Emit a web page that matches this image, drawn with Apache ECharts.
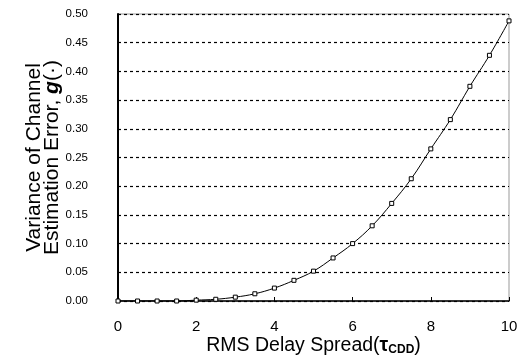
<!DOCTYPE html>
<html>
<head>
<meta charset="utf-8">
<script src="https://cdn.jsdelivr.net/npm/echarts@6/dist/echarts.min.js"></script>
<style>
  html, body { margin: 0; padding: 0; background: #fff; }
  #main { width: 530px; height: 359px; }
</style>
</head>
<body>
<div id="main"></div>
<script>
// RMS delay spread (tau_CDD) and the variance g(.)
var delaySpread = [0, 0.5, 1, 1.5, 2, 2.5, 3, 3.5, 4, 4.5, 5, 5.5, 6, 6.5, 7, 7.5, 8, 8.5, 9, 9.5, 10];
var variance = [0, 0, 0, 0, 0.0015, 0.003, 0.0067, 0.0126, 0.0225, 0.036, 0.052, 0.075, 0.1, 0.131, 0.17, 0.213, 0.265, 0.316, 0.374, 0.428, 0.488];
var xTicks = [0, 2, 4, 6, 8, 10];
var yTicks = [0, 0.05, 0.1, 0.15, 0.2, 0.25, 0.3, 0.35, 0.4, 0.45, 0.5];

var pts = [];
delaySpread.forEach(function (x, i) {
  pts.push([x, variance[i]]);
});

var font = 'Liberation Sans';
var myChart = echarts.init(document.getElementById('main'));
myChart.setOption({
  animation: false,
  backgroundColor: '#fff',
  grid: {
    left: 118, right: 21, top: 14, bottom: 58,
    outerBoundsMode: 'none',
    show: true, borderColor: '#999', borderWidth: 1
  },
  xAxis: {
    type: 'value',
    min: xTicks[0], max: xTicks[xTicks.length - 1], interval: 2,
    name: '{a|RMS Delay Spread(}{t|τ}{s|CDD}{a|)}',
    nameLocation: 'middle',
    nameGap: 35,
    nameMoveOverlap: false,
    nameTextStyle: {
      rich: {
        a: { fontFamily: font, fontSize: 19.5, color: '#000', lineHeight: 20 },
        t: { fontFamily: font, fontSize: 19.5, fontWeight: 'bold', color: '#000', lineHeight: 20 },
        s: { fontFamily: font, fontSize: 12, fontWeight: 'bold', color: '#000', lineHeight: 20, verticalAlign: 'bottom', padding: [8, 0, 0, 0] }
      }
    },
    axisLine: { lineStyle: { color: '#000', width: 1.5 } },
    axisTick: { inside: true, length: 4, lineStyle: { color: '#000' } },
    axisLabel: { fontFamily: font, fontSize: 15, color: '#000', margin: 18 },
    splitLine: { show: false }
  },
  yAxis: {
    type: 'value',
    min: yTicks[0], max: yTicks[yTicks.length - 1], interval: 0.05,
    name: '{a|Variance of Channel}\n{a|Estimation Error, }{g|g}{a|(·)}',
    nameLocation: 'middle',
    nameGap: 57,
    nameMoveOverlap: false,
    nameTextStyle: {
      align: 'center',
      rich: {
        a: { fontFamily: font, fontSize: 21, color: '#000', lineHeight: 18 },
        g: { fontFamily: font, fontSize: 21, fontStyle: 'italic', fontWeight: 'bold', color: '#000', lineHeight: 18 }
      }
    },
    axisLine: { show: true, lineStyle: { color: '#000', width: 2 } },
    axisTick: { show: true, inside: true, length: 3, lineStyle: { color: '#000' } },
    axisLabel: {
      fontFamily: font, fontSize: 11.5, color: '#000', margin: 30,
      formatter: function (v) { return v.toFixed(2); }
    },
    splitLine: { lineStyle: { color: '#000', width: 1.2, type: [3, 3] } }
  },
  series: [{
    type: 'line',
    data: pts,
    smooth: 0.4,
    symbol: 'rect',
    symbolSize: 4,
    lineStyle: { color: '#000', width: 1 },
    itemStyle: { color: '#fff', borderColor: '#000', borderWidth: 1 }
  }]
});
</script>
</body>
</html>
